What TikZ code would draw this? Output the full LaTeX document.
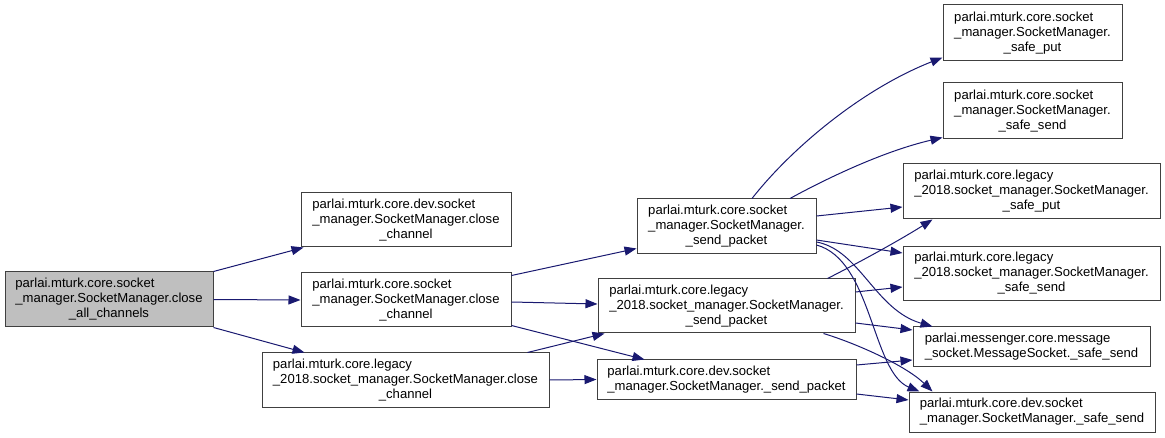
\documentclass[tikz,border=0pt]{standalone}
\usepackage{fontspec}
\setmainfont{Liberation Sans}
\usetikzlibrary{arrows.meta,calc}
\definecolor{edgeblue}{HTML}{191970}
\definecolor{boxline}{HTML}{404040}
\definecolor{rootfill}{HTML}{BFBFBF}
\newcommand{\threel}[3]{\rlap{#1}\phantom{#2}\\#2\\#3}
\newcommand{\twol}[2]{\rlap{#1}\phantom{#2}\\#2}
\begin{document}
\begin{tikzpicture}[x=1pt,y=-1pt,
  fn/.style={draw=boxline,line width=1pt,fill=white,inner sep=0pt,align=center,
    font=\fontsize{13.1}{15}\selectfont},
  rootfn/.style={fn,fill=rootfill},
  call/.style={draw=edgeblue,line width=1pt,-{Triangle[length=12pt,width=9pt]}}]
\useasboundingbox (0,0) rectangle (1165,438);
% column 0
\node[rootfn,minimum width=208pt,minimum height=55pt] (A) at (109,299.5)
  {\threel{parlai.mturk.core.socket}{\_manager.SocketManager.close}{\_all\_channels}};
% column 1
\node[fn,minimum width=210pt,minimum height=54pt] (B) at (406,220)
  {\threel{parlai.mturk.core.dev.socket}{\_manager.SocketManager.close}{\_channel}};
\node[fn,minimum width=210pt,minimum height=54pt] (C) at (406,300)
  {\threel{parlai.mturk.core.socket}{\_manager.SocketManager.close}{\_channel}};
\node[fn,minimum width=287pt,minimum height=54pt] (D) at (405.5,380)
  {\threel{parlai.mturk.core.legacy}{\_2018.socket\_manager.SocketManager.close}{\_channel}};
% column 2
\node[fn,minimum width=179pt,minimum height=55pt] (E) at (726.5,226.5)
  {\threel{parlai.mturk.core.socket}{\_manager.SocketManager.}{\_send\_packet}};
\node[fn,minimum width=257pt,minimum height=54pt] (F) at (726.5,306)
  {\threel{parlai.mturk.core.legacy}{\_2018.socket\_manager.SocketManager.}{\_send\_packet}};
\node[fn,minimum width=259pt,minimum height=39pt] (G) at (726.5,379.5)
  {\twol{parlai.mturk.core.dev.socket}{\_manager.SocketManager.\_send\_packet}};
% column 3
\node[fn,minimum width=179pt,minimum height=56pt] (H) at (1032.5,33)
  {\threel{parlai.mturk.core.socket}{\_manager.SocketManager.}{\_safe\_put}};
\node[fn,minimum width=179pt,minimum height=56pt] (I) at (1032.5,111)
  {\threel{parlai.mturk.core.socket}{\_manager.SocketManager.}{\_safe\_send}};
\node[fn,minimum width=257pt,minimum height=55pt] (J) at (1031.5,191.5)
  {\threel{parlai.mturk.core.legacy}{\_2018.socket\_manager.SocketManager.}{\_safe\_put}};
\node[fn,minimum width=257pt,minimum height=54pt] (K) at (1031.5,273.5)
  {\threel{parlai.mturk.core.legacy}{\_2018.socket\_manager.SocketManager.}{\_safe\_send}};
\node[fn,minimum width=237pt,minimum height=40pt] (L) at (1031.5,347)
  {\twol{parlai.messenger.core.message}{\_socket.MessageSocket.\_safe\_send}};
\node[fn,minimum width=246pt,minimum height=40pt] (M) at (1032,412)
  {\twol{parlai.mturk.core.dev.socket}{\_manager.SocketManager.\_safe\_send}};
% edges
\draw[call] (A.north east) -- ($(B.south west)+(3,0)$);
\draw[call] (A.east) -- (C.west);
\draw[call] (A.south east) -- ($(D.north west)+(43,0)$);
\draw[call] ($(C.north east)+(0,3)$) -- ($(E.south west)+(0,-6)$);
\draw[call] ($(C.east)+(0,2)$) -- ($(F.west)+(0,-2)$);
\draw[call] ($(C.south east)+(0,-2)$) -- ($(G.north west)+(48,0)$);
\draw[call] ($(D.north east)+(-22,0)$) -- ($(F.south west)+(7,0)$);
\draw[call] (D.east) -- (G.west);
\draw[call] ($(E.north)+(25.5,0)$) .. controls (790,150) and (860,90) .. ($(H.south west)+(0,-4)$);
\draw[call] ($(E.north)+(63.5,0)$) .. controls (820,182) and (880,152) .. ($(I.south west)+(0,-2)$);
\draw[call] ($(E.east)+(0,-10.5)$) -- ($(J.west)+(0,15.5)$);
\draw[call] ($(E.east)+(0,13.5)$) -- ($(K.west)+(0,-20.5)$);
\draw[call] ($(E.east)+(0,15.5)$) .. controls (860,250) and (875,310) .. ($(L.north west)+(20,0)$);
\draw[call] ($(E.east)+(0,18.5)$) .. controls (872,260) and (872,372) .. ($(M.north west)+(11,0)$);
\draw[call] ($(F.north east)+(-28,0)$) .. controls (860,262) and (900,240) .. ($(J.south west)+(30,0)$);
\draw[call] ($(F.east)+(0,-14)$) -- ($(K.west)+(0,13.5)$);
\draw[call] ($(F.east)+(0,17)$) -- ($(L.west)+(0,-17)$);
\draw[call] ($(F.south east)+(-32,0)$) .. controls (855,343) and (905,365) .. ($(M.north west)+(24,0)$);
\draw[call] ($(G.east)+(0,-14.5)$) -- ($(L.west)+(0,13)$);
\draw[call] ($(G.east)+(0,14.5)$) -- ($(M.west)+(0,-12)$);
\end{tikzpicture}
\end{document}
